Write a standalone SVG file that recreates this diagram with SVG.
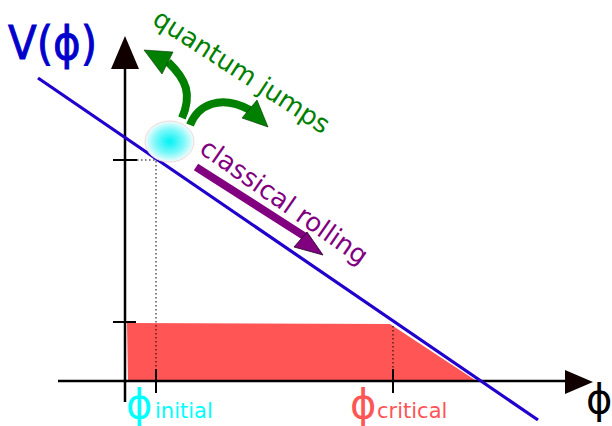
<svg xmlns="http://www.w3.org/2000/svg" width="612" height="426" viewBox="0 0 612 426">
<defs>
<radialGradient id="ballg" cx="0.5" cy="0.5" r="0.5">
<stop offset="0" stop-color="#00f2f5"/>
<stop offset="0.6" stop-color="#80f8fa"/>
<stop offset="1" stop-color="#f4fcfc"/>
</radialGradient>
<style>
.ax{stroke:#000;stroke-width:2.5;fill:none}
.tk{stroke:#000;stroke-width:2;fill:none}
.dot{stroke:#000;stroke-width:1;stroke-dasharray:1.5 2.5;fill:none}
.t{font-family:"DejaVu Sans",sans-serif}
</style>
</defs>
<g id="region">
<path d="M127,323 L390,324 L475,380 L128,381 Z" fill="#ff5555"/>
</g>
<g id="axes">
<path class="ax" d="M125,402 V66"/>
<path d="M125,36 L111,69 L139,69 Z" fill="#100000"/>
<path class="ax" d="M58,381 H566"/>
<path d="M593,382 L565,370 L565,394 Z" fill="#100000"/>
<path class="tk" d="M113,160 H137 M113,322 H136 M156,369 V393 M393,369 V393"/>
<path class="dot" d="M137,160 H156 V369 M393,326 V369"/>
</g>
<g id="potential">
<path d="M38,78 L538,420" stroke="#2000cc" stroke-width="3.2"/>
</g>
<g id="ball">
<ellipse cx="169.5" cy="141.5" rx="24.5" ry="20.5" fill="url(#ballg)" stroke="#f0d8d8" stroke-width="1"/>
</g>
<g id="connectors">
<path d="M182,118 C192,95 187,80 168,62" stroke="#008000" stroke-width="8" fill="none"/>
<path d="M144,50 L173,52 L162,74 Z" fill="#008000" stroke="#003000" stroke-width="0.6"/>
<path d="M190,125 C198,105 220,94 250,110" stroke="#008000" stroke-width="8" fill="none"/>
<path d="M242,118 L268,127 L257,100 Z" fill="#008000" stroke="#003000" stroke-width="0.6"/>
<path d="M196,167 L304,236" stroke="#800080" stroke-width="8" fill="none"/>
<path d="M294,247 L323,255 L307,232 Z" fill="#800080" stroke="#200020" stroke-width="0.8"/>
</g>
<g id="labels">
<text class="t" x="8" y="59" font-size="42" fill="#0000cc" stroke="#0000cc" stroke-width="0.8" transform="translate(0,-6) scale(1,1.1)">V(ϕ)</text>
<text class="t" font-size="26" fill="#008000" transform="translate(151,23) rotate(33)">quantum jumps</text>
<text class="t" font-size="26" fill="#800080" transform="translate(198,152) rotate(35)">classical rolling</text>
<text class="t" x="126" y="418" font-size="40" fill="#00ffff">ϕ</text>
<text class="t" x="155" y="418" font-size="21" fill="#00ffff">initial</text>
<text class="t" x="350" y="418" font-size="40" fill="#ff5555">ϕ</text>
<text class="t" x="377" y="418" font-size="21" fill="#ff5555">critical</text>
<text class="t" x="586" y="413" font-size="40" fill="#000">ϕ</text>
</g>
</svg>
